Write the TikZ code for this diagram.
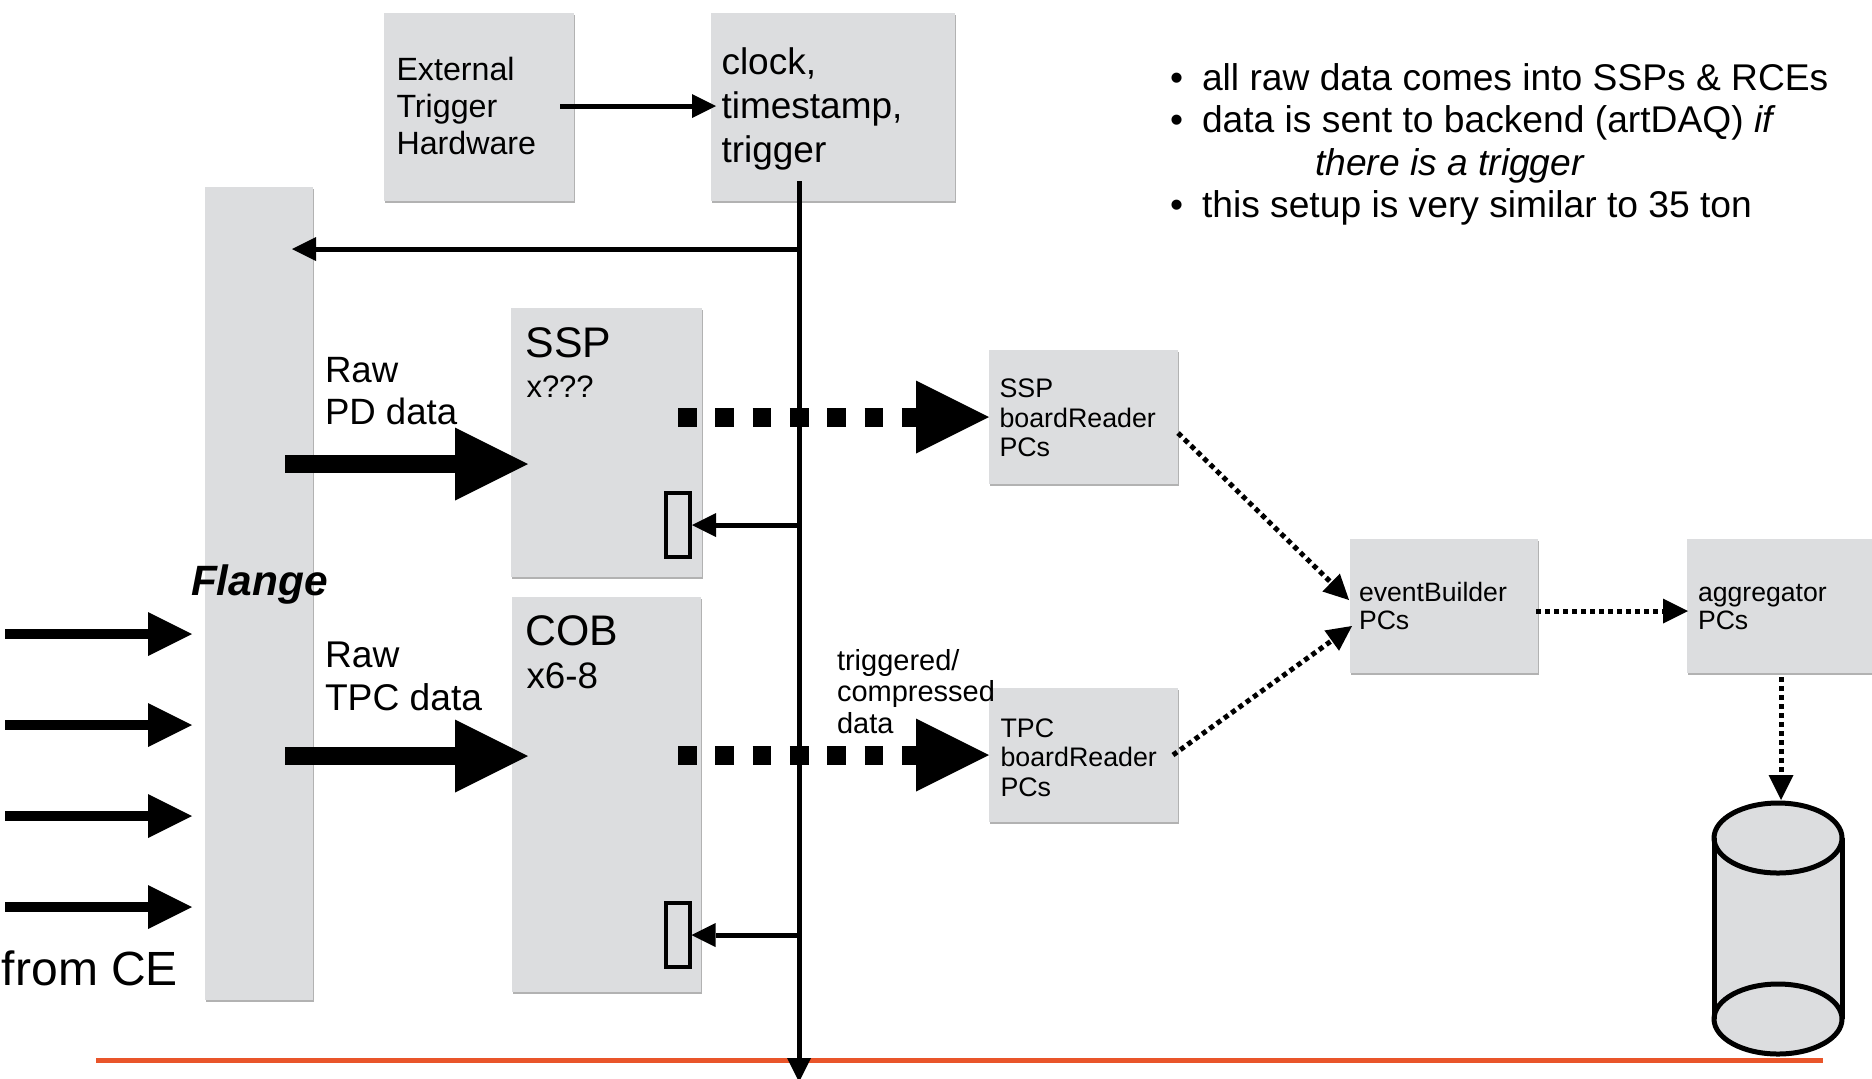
\documentclass[tikz,border=0pt]{standalone}
\usepackage{fontspec}
\setmainfont{Liberation Sans}
\usetikzlibrary{arrows.meta,shadows,calc}
\definecolor{boxgray}{RGB}{220,221,223}
\definecolor{lineorange}{RGB}{233,85,42}
\newcommand\fsz[2]{\fontsize{#1}{#2}\selectfont}
\begin{document}
\begin{tikzpicture}[x=0.5pt,y=-0.5pt,
  box/.style={rectangle, fill=boxgray, inner sep=0pt, outer sep=0pt,
    drop shadow={shadow xshift=0.6pt, shadow yshift=-1pt, opacity=0.3, fill=black}},
  smallrect/.style={rectangle, fill=boxgray, draw=black, line width=2pt,
    minimum width=12pt, minimum height=32pt, inner sep=0pt},
  lblm/.style={inner sep=0pt, outer sep=0pt, anchor=north west, align=left},
  lbls/.style={inner sep=0pt, outer sep=0pt, anchor=base west},
  tarrow/.style={line width=2.5pt, -{Triangle[length=12pt,width=12pt,line width=0pt]}},
  dotarrow/.style={line width=2.5pt, dash pattern=on 2.5pt off 2pt,
    -{Triangle[length=12.5pt,width=12.5pt,line width=0pt]}},
  bigarrow/.style={line width=9pt, -{Triangle[length=36.5pt,width=36.5pt,line width=0pt]}},
  bigdash/.style={line width=9.5pt, dash pattern=on 9.3pt off 9.35pt,
    -{Triangle[length=36.5pt,width=36.5pt,line width=0pt]}},
  cearrow/.style={line width=5.3pt, -{Triangle[length=22pt,width=22pt,line width=0pt]}}
]
\useasboundingbox (0,0) rectangle (1872,1078);

% boxes
\node[box, minimum width=95pt, minimum height=94pt] (ext) at (479,107) {};
\node[box, minimum width=122pt, minimum height=94pt] (clk) at (833,107) {};
\node[box, minimum width=54pt, minimum height=406.5pt] (fl) at (259,593.5) {};
\node[box, minimum width=95.5pt, minimum height=134.5pt] (ssp) at (606.5,442.5) {};
\node[box, minimum width=94.5pt, minimum height=197.5pt] (cob) at (606.5,794.5) {};
\node[box, minimum width=94.5pt, minimum height=67pt] (sspbr) at (1083.5,417) {};
\node[box, minimum width=94.5pt, minimum height=67pt] (tpcbr) at (1083.5,755) {};
\node[box, minimum width=94pt, minimum height=67pt] (evb) at (1444,606) {};
\node[box, minimum width=94pt, minimum height=67pt] (agg) at (1781,606) {};

\node[smallrect] (sspr) at (678,525) {};
\node[smallrect] (cobr) at (677.5,935) {};

% cylinder
\fill[boxgray] (1714,838) -- (1714,1019)
  arc[start angle=180, end angle=360, x radius=32pt, y radius=17.5pt]
  -- (1842,838)
  arc[start angle=0, end angle=180, x radius=32pt, y radius=17.5pt] -- cycle;
\draw[line width=2.5pt] (1714,838) -- (1714,1019);
\draw[line width=2.5pt] (1842,838) -- (1842,1019);
\draw[line width=2.5pt] (1778,838) ellipse [x radius=32pt, y radius=17.5pt];
\draw[line width=2.5pt] (1778,1019) ellipse [x radius=32pt, y radius=17.5pt];
\coordinate (cylin) at (1781,800);

% orange line
\draw[lineorange, line width=2.5pt] (96,1060) -- (1823,1060);

% texts
\node[lblm, font=\fsz{16.1}{18.5}] (extT) at (396.5,55) {\strut External\\Trigger\\Hardware};
\node[lblm, font=\fsz{18.5}{22.1}] (clkT) at (721.5,43.1) {\strut clock,\\timestamp,\\trigger};
\node[lbls, font=\fsz{21.4}{25}] (sspT) at (525.5,357) {SSP};
\node[lbls, font=\fsz{15.5}{18.6}] (sspN) at (526.5,397) {x???};
\node[lbls, font=\fsz{21.4}{25}] (cobT) at (525.5,645) {COB};
\node[lbls, font=\fsz{18.4}{21}] (cobN) at (526.5,688) {x6-8};
\node[lblm, font=\fsz{18.3}{21}] (pdT) at (325,352.6) {\strut Raw\\PD data};
\node[lblm, font=\fsz{18.6}{21.5}] (tpcT) at (325,637) {\strut Raw\\TPC data};
\node[lbls, font=\fsz{21.2}{25}\bfseries\itshape] (flT) at (191,595) {Flange};
\node[lbls, font=\fsz{24}{28}] (ceT) at (2,985) {from CE};
\node[lblm, font=\fsz{13.4}{14.8}] (sspbrT) at (999.5,377) {\strut SSP\\boardReader\\PCs};
\node[lblm, font=\fsz{13.4}{14.8}] (tpcbrT) at (1000.5,716.3) {\strut TPC\\boardReader\\PCs};
\node[lblm, font=\fsz{14.5}{15.8}] (trigT) at (837,647.9) {\strut triggered/\\compressed\\data};
\node[lblm, font=\fsz{13.3}{14}] (evbT) at (1359,581.4) {\strut eventBuilder\\PCs};
\node[lblm, font=\fsz{13.3}{14}] (aggT) at (1698,581.4) {\strut aggregator\\PCs};
\node[lblm, font=\fsz{18.6}{21.3}] (notes) at (1170,60.2) {\strut\makebox[16pt][l]{•}all raw data comes into SSPs \& RCEs\\
\makebox[16pt][l]{•}data is sent to backend (artDAQ) \textit{if}\\
\hspace*{72.5pt}\textit{there is a trigger}\\
\makebox[16pt][l]{•}this setup is very similar to 35 ton};

% coordinates for free ends
\coordinate (extout) at (560,106);
\coordinate (clkin) at (716,106);
\coordinate (vtop) at (799,181);
\coordinate (vbot) at (799,1082);
\coordinate (j1) at (799,249);
\coordinate (flin) at (292,249);
\coordinate (j2) at (799,525);
\coordinate (j3) at (799,935);
\coordinate (pdS) at (285,464);
\coordinate (pdE) at (528,464);
\coordinate (tpcS) at (285,756);
\coordinate (tpcE) at (528,756);
\coordinate (sspd) at (678,417);
\coordinate (tpcd) at (678,755);
\foreach \i/\y in {1/634,2/725,3/816,4/907}{
  \coordinate (ce\i s) at (5,\y);
  \coordinate (ce\i e) at (192,\y);
}

% connectors
\draw[tarrow] (extout) -- (clkin);
\draw[tarrow] (vtop) -- (vbot);
\draw[tarrow] (j1) -- (flin);
\draw[tarrow] (j2) -- (sspr.east);
\draw[tarrow] (j3) -- (cobr.east);
\draw[bigarrow] (pdS) -- (pdE);
\draw[bigarrow] (tpcS) -- (tpcE);
\draw[bigdash] (sspd) -- (sspbr.west);
\draw[bigdash] (tpcd) -- (tpcbr.west);
\foreach \i in {1,2,3,4}{\draw[cearrow] (ce\i s) -- (ce\i e);}
\draw[dotarrow] ($(sspbr.east)+(0,16)$) -- ($(evb.west)+(-1,-6)$);
\draw[dotarrow] ($(tpcbr.east)+(-5,0)$) -- ($(evb.west)+(2,20)$);
\draw[dotarrow] ($(evb.east)+(-2,5)$) -- ($(agg.west)+(1,5)$);
\draw[dotarrow] ($(agg.south)+(0,4)$) -- (cylin);
\end{tikzpicture}
\end{document}
